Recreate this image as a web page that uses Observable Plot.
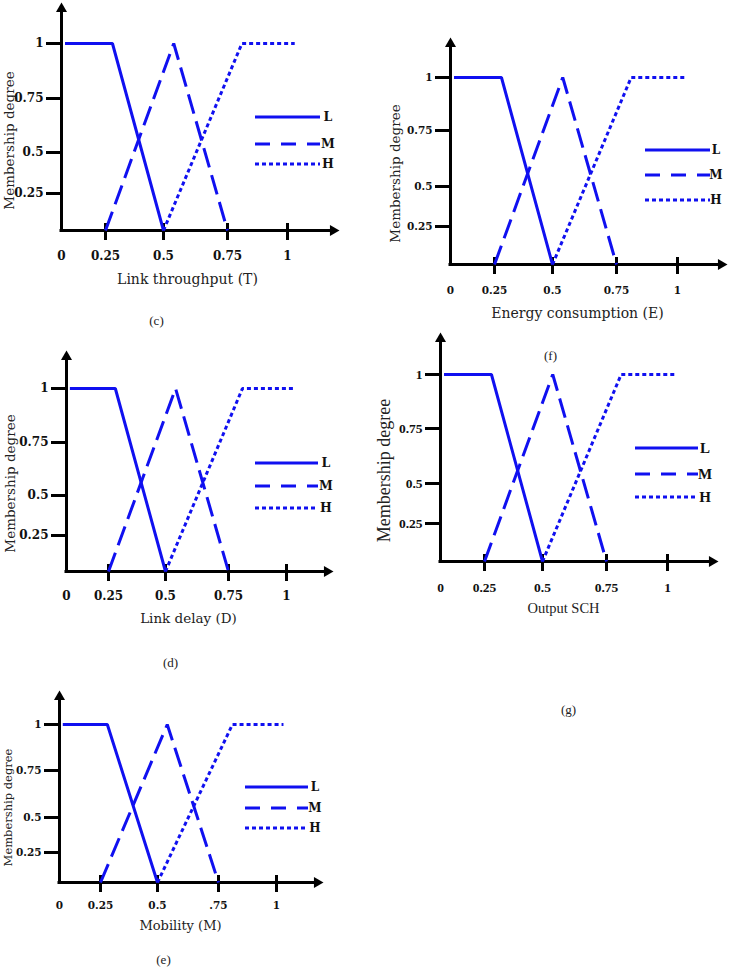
<!DOCTYPE html>
<html><head><meta charset="utf-8">
<script src="https://cdn.jsdelivr.net/npm/d3@7"></script>
<script src="https://cdn.jsdelivr.net/npm/@observablehq/plot@0.6"></script>
<style>
html,body{margin:0;padding:0;background:#fff;}
#root{position:relative;width:731px;height:973px;overflow:hidden;background:#fff;}
#root svg{position:absolute;left:0;top:0;}
</style></head><body><div id="root"></div>
<script>
// ---------- data ----------
const xTicks = [0, 0.25, 0.5, 0.75, 1];
const yTicks = [0, 0.25, 0.5, 0.75, 1];
const xTickLabels = ["0", "0.25", "0.5", "0.75", "1"];
const xTickLabelsMobility = ["0", "0.25", "0.5", ".75", "1"];
const yTickLabels = ["", "0.25", "0.5", "0.75", "1"];
const seriesNames = ["L", "M", "H"];
const lowX = [0.02, 0.28, 0.5];
const lowY = [1, 1, 0];
const medX = [0.25, 0.54, 0.75];
const medY = [0, 1, 0];
const highX = [0.5, 0.81, 1.03];
const highY = [0, 1, 1];
const xTitles = ["Link throughput (T)", "Energy consumption (E)", "Link delay (D)", "Output SCH", "Mobility (M)"];
const captions = ["(c)", "(f)", "(d)", "(g)", "(e)"];
const yTitle = "Membership degree";

// ---------- layout (pixel placement of each hand-drawn panel) ----------
const W = 731, H = 973;
const layout = [
  {axisX: 61, axisY: 230, top: 2, right: 339, xPx: [61, 105, 163, 227, 287], yPx: [230, 193, 152, 98, 43],
   tickY: 256, xTitle: [187, 279], yTitleP: [9, 140], legend: {x1: 255, x2: 320, tx: 328, ys: [117, 144, 164]},
   caption: [156, 320], font: "DejaVu Serif", tickSize: 12, titleSize: 14, yTitleSize: 13.5, legendSize: 12.5, labels: xTickLabels},
  {axisX: 450, axisY: 264, top: 37, right: 727, xPx: [450, 494, 552, 616, 677], yPx: [264, 226, 186, 130, 77],
   tickY: 290, xTitle: [577, 313], yTitleP: [395, 173], legend: {x1: 645, x2: 710, tx: 716, ys: [150, 175, 200]},
   caption: [550, 355], font: "DejaVu Serif", tickSize: 10.5, titleSize: 14, yTitleSize: 13.5, legendSize: 12, labels: xTickLabels},
  {axisX: 66, axisY: 571, top: 350, right: 333, xPx: [66, 108, 165, 228, 286], yPx: [571, 535, 495, 442, 388],
   tickY: 596, xTitle: [188, 618], yTitleP: [10, 483], legend: {x1: 255, x2: 318, tx: 326, ys: [463, 486, 508]},
   caption: [170, 662], font: "DejaVu Serif", tickSize: 12, titleSize: 13.5, yTitleSize: 13.5, legendSize: 12.5, labels: xTickLabels},
  {axisX: 440, axisY: 561, top: 332, right: 718, xPx: [440, 484, 542, 606, 667], yPx: [561, 523, 483, 428, 374],
   tickY: 587, xTitle: [563, 608], yTitleP: [384, 470], legend: {x1: 635, x2: 698, tx: 705, ys: [448, 474, 497]},
   caption: [568, 709], font: "Liberation Serif", tickSize: 13.5, titleSize: 14.5, yTitleSize: 18, legendSize: 15, labels: xTickLabels},
  {axisX: 59, axisY: 882, top: 690, right: 323, xPx: [59, 100, 157, 218, 276], yPx: [882, 852, 817, 770, 724],
   tickY: 905, xTitle: [180, 925], yTitleP: [8, 807], legend: {x1: 245, x2: 308, tx: 315, ys: [787, 808, 828]},
   caption: [163, 959], font: "DejaVu Serif", tickSize: 10.5, titleSize: 13, yTitleSize: 11.5, legendSize: 12, labels: xTickLabelsMobility}
];

const blue = "#1010f0";
const dashes = [null, "20,8", "4,3"];
const legendDashes = [null, "15,11", "4,3"];
const seriesData = [
  lowX.map((x, j) => ({x, y: lowY[j]})),
  medX.map((x, j) => ({x, y: medY[j]})),
  highX.map((x, j) => ({x, y: highY[j]}))
];

// d3 triangle geometry for arrowheads
const arrowR = 4.1;
const triK = Math.sqrt(arrowR * arrowR * Math.PI / (Math.sqrt(3) * 3));

const root = document.getElementById("root");

layout.forEach((cfg, i) => {
  const yTickData = yTicks.map((v, j) => ({v, label: yTickLabels[j]})).filter(d => d.label);
  const xTickData = xTicks.map((v, j) => ({v, label: cfg.labels[j]}));
  const at = (p) => ({frameAnchor: "top-left", textAnchor: "middle", lineAnchor: "middle",
    dx: p[0] - cfg.axisX, dy: p[1] - cfg.top});
  const marks = [
    // axes
    Plot.ruleX([0], {x: d => d, stroke: "#000", strokeWidth: 3, insetTop: 6, insetBottom: -1.5}),
    Plot.ruleY([0], {y: d => d, stroke: "#000", strokeWidth: 3, insetRight: 6, insetLeft: -1.5}),
    Plot.dot([0], {x: d => d, frameAnchor: "top", symbol: "triangle", r: arrowR, fill: "#000", stroke: null, dy: 2 * triK}),
    Plot.dot([0], {y: d => d, frameAnchor: "right", symbol: "triangle", rotate: 90, r: arrowR, fill: "#000", stroke: null, dx: -2 * triK}),
    // ticks
    Plot.ruleX(xTicks.slice(1), {x: d => d, y1: 0, y2: 0, insetTop: -7, insetBottom: -10, stroke: "#000", strokeWidth: 3}),
    Plot.ruleY(yTicks.slice(1), {y: d => d, x1: 0, x2: 0, insetLeft: -15, insetRight: 0, stroke: "#000", strokeWidth: 3}),
    // tick labels
    Plot.text(xTickData, {x: "v", y: 0, text: "label", dy: cfg.tickY - cfg.axisY, fontWeight: "bold",
      fontSize: cfg.tickSize, fontFamily: cfg.font, fill: "#111"}),
    Plot.text(yTickData, {x: 0, y: "v", text: "label", dx: -18, textAnchor: "end", fontWeight: "bold",
      fontSize: cfg.tickSize, fontFamily: cfg.font, fill: "#111"}),
    // membership functions
    ...seriesData.map((d, k) => Plot.line(d, {x: "x", y: "y", stroke: blue, strokeWidth: 3,
      strokeDasharray: dashes[k], strokeLinecap: "butt", strokeLinejoin: "miter"})),
    // titles and caption
    Plot.text([xTitles[i]], {text: d => d, ...at(cfg.xTitle), fontSize: cfg.titleSize, fontFamily: cfg.font, fill: "#222"}),
    Plot.text([yTitle], {text: d => d, ...at(cfg.yTitleP), rotate: -90, fontSize: cfg.yTitleSize, fontFamily: cfg.font, fill: "#222"}),
    Plot.text([captions[i]], {text: d => d, ...at(cfg.caption), fontSize: 13, fontFamily: "Liberation Serif", fill: "#222"})
  ];
  const svg = Plot.plot({
    width: W, height: H,
    marginLeft: cfg.axisX, marginRight: W - cfg.right, marginTop: cfg.top, marginBottom: H - cfg.axisY,
    style: {background: "transparent", overflow: "visible"},
    x: {type: "linear", domain: xTicks, range: cfg.xPx, axis: null},
    y: {type: "linear", domain: yTicks, range: cfg.yPx, axis: null},
    marks
  });
  // legend
  const g = d3.select(svg).append("g");
  seriesNames.forEach((name, k) => {
    const y = cfg.legend.ys[k];
    g.append("line").attr("x1", cfg.legend.x1).attr("x2", cfg.legend.x2).attr("y1", y).attr("y2", y)
      .attr("stroke", blue).attr("stroke-width", 3).attr("stroke-dasharray", legendDashes[k]);
    g.append("text").attr("x", cfg.legend.tx).attr("y", y).attr("dy", "0.35em")
      .attr("font-family", cfg.font).attr("font-weight", "bold").attr("font-size", cfg.legendSize)
      .attr("fill", "#111").text(name);
  });
  root.appendChild(svg);
});
</script></body></html>
